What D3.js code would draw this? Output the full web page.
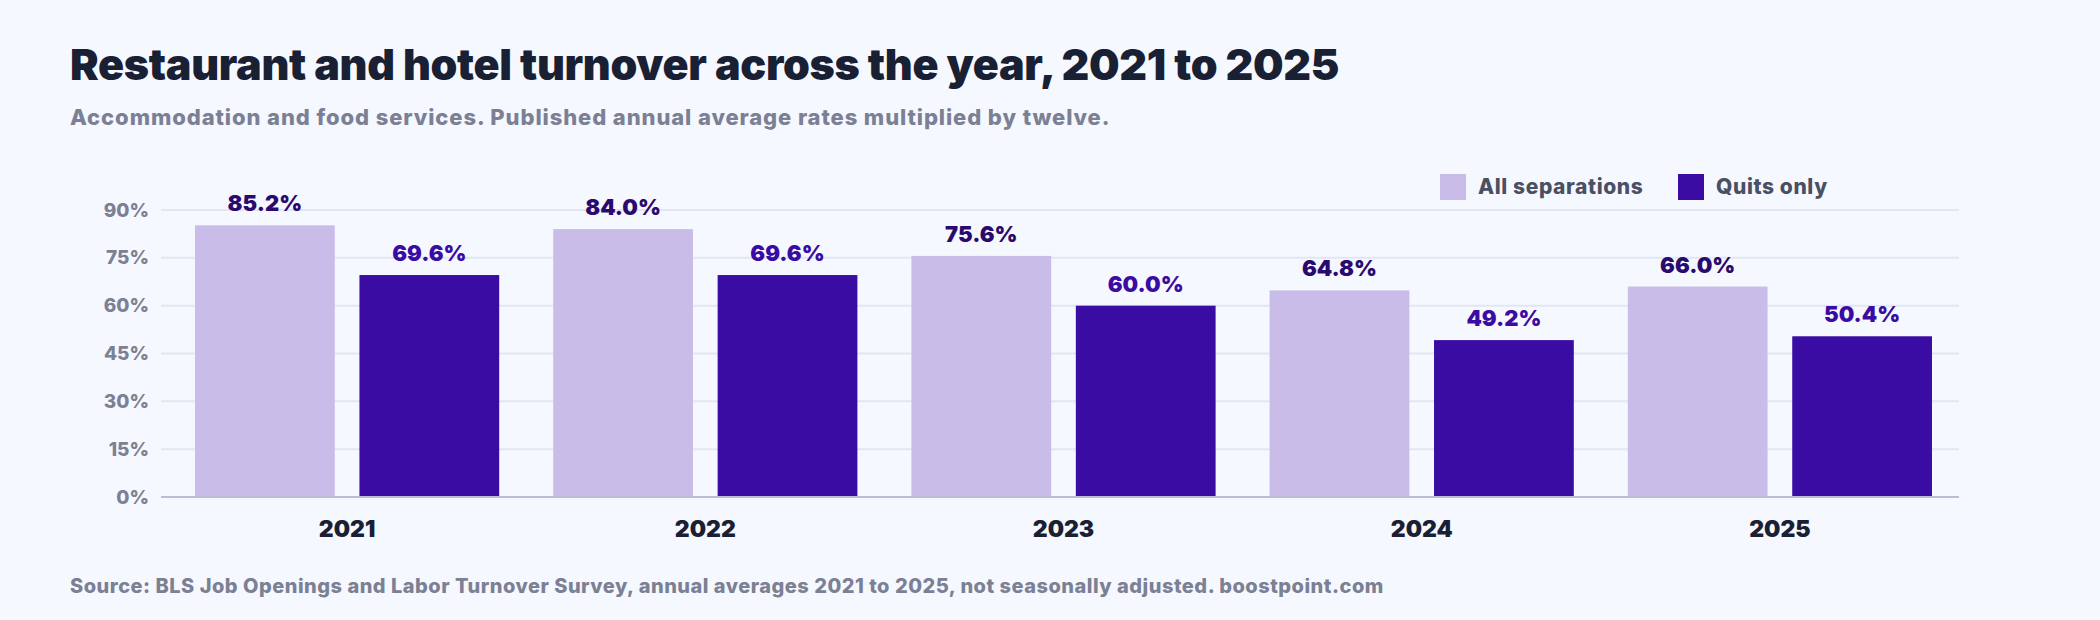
<!DOCTYPE html>
<html><head><meta charset="utf-8">
<script src="https://cdn.jsdelivr.net/npm/d3@7"></script>
<style>
body{margin:0;background:#f5f8ff;font-family:Inter,"Noto Sans",sans-serif;}
</style></head>
<body><div id="chart"></div>
<script>
var years = ["2021", "2022", "2023", "2024", "2025"];
var allSeparations = [85.2, 84.0, 75.6, 64.8, 66.0];
var quitsOnly = [69.6, 69.6, 60.0, 49.2, 50.4];
var seriesNames = ["All separations", "Quits only"];
var yTicks = [0, 15, 30, 45, 60, 75, 90];

var W = 2100, H = 620;
var margin = { top: 210, right: 141, bottom: 123, left: 168 },
    width = W - margin.left - margin.right,
    height = H - margin.top - margin.bottom;
var colors = ["#c9bce9", "#3a0ca3"];

var svg = d3.select("#chart").append("svg")
    .attr("width", W).attr("height", H);
svg.append("rect").attr("width", W).attr("height", H).attr("fill", "#f5f8ff");

svg.append("text").attr("x", 70).attr("y", 80)
    .attr("font-size", 43).attr("font-weight", 900).attr("fill", "#1a2033")
    .attr("letter-spacing", -0.3)
    .text("Restaurant and hotel turnover across the year, 2021 to 2025");
svg.append("text").attr("x", 70).attr("y", 125)
    .attr("font-size", 22).attr("font-weight", 800).attr("fill", "#7b8094")
    .attr("letter-spacing", 0.9)
    .text("Accommodation and food services. Published annual average rates multiplied by twelve.");
svg.append("text").attr("x", 70).attr("y", 593)
    .attr("font-size", 20).attr("font-weight", 800).attr("fill", "#7b8094")
    .attr("letter-spacing", 0.5)
    .text("Source: BLS Job Openings and Labor Turnover Survey, annual averages 2021 to 2025, not seasonally adjusted. boostpoint.com");

var g = svg.append("g").attr("transform", "translate(" + margin.left + "," + margin.top + ")");

var x0 = d3.scaleBand().domain(years).range([0, width]).paddingInner(0).paddingOuter(0);
var x1 = d3.scaleBand().domain(seriesNames).range([27, x0.bandwidth() - 27]).paddingInner(0.15);
var yScale = d3.scaleLinear().domain([0, 90]).range([height, 0]);

g.selectAll(".grid").data(yTicks.slice(1)).enter().append("line")
    .attr("x1", -7).attr("x2", width)
    .attr("y1", function(d) { return yScale(d); }).attr("y2", function(d) { return yScale(d); })
    .attr("stroke", "#e3e6f2").attr("stroke-width", 2);

var yAxis = g.append("g").call(d3.axisLeft(yScale).tickValues(yTicks).tickSize(0).tickPadding(19)
    .tickFormat(function(d) { return d + "%"; }));
yAxis.select(".domain").remove();
yAxis.selectAll("text").attr("font-size", 19).attr("font-weight", 800).attr("fill", "#7b8094")
    .attr("font-family", "Inter,sans-serif");

var rows = years.map(function(y, i) {
    return { year: y, vals: [allSeparations[i], quitsOnly[i]] };
});
var grp = g.selectAll(".grp").data(rows).enter().append("g")
    .attr("transform", function(d) { return "translate(" + x0(d.year) + ",0)"; });
grp.selectAll("rect").data(function(d) { return d.vals; }).enter().append("rect")
    .attr("x", function(d, i) { return x1(seriesNames[i]); })
    .attr("width", x1.bandwidth())
    .attr("y", function(d) { return yScale(d); })
    .attr("height", function(d) { return height - yScale(d); })
    .attr("fill", function(d, i) { return colors[i]; });
grp.selectAll(".lbl").data(function(d) { return d.vals; }).enter().append("text")
    .attr("x", function(d, i) { return x1(seriesNames[i]) + x1.bandwidth() / 2; })
    .attr("y", function(d) { return yScale(d) - 14; })
    .attr("text-anchor", "middle").attr("font-size", 22).attr("font-weight", 900)
    .attr("fill", function(d, i) { return i ? "#3a0ca3" : "#2a0a6e"; })
    .text(function(d) { return d.toFixed(1) + "%"; });

g.append("line").attr("x1", -7).attr("x2", width).attr("y1", height).attr("y2", height)
    .attr("stroke", "#b9bdd6").attr("stroke-width", 2);

var xAxis = g.append("g").attr("transform", "translate(0," + height + ")")
    .call(d3.axisBottom(x0).tickSize(0).tickPadding(24));
xAxis.select(".domain").remove();
xAxis.selectAll("text").attr("font-size", 23).attr("font-weight", 900).attr("fill", "#1a2033")
    .attr("font-family", "Inter,sans-serif");

var leg = svg.append("g").attr("transform", "translate(1440,174)");
var lx = [0, 238];
seriesNames.forEach(function(n, i) {
    leg.append("rect").attr("x", lx[i]).attr("y", 0).attr("width", 26).attr("height", 26).attr("fill", colors[i]);
    leg.append("text").attr("x", lx[i] + 38).attr("y", 20).attr("font-size", 21).attr("font-weight", 800)
        .attr("letter-spacing", 0.6).attr("fill", "#4a4f63").text(n);
});
</script></body></html>
